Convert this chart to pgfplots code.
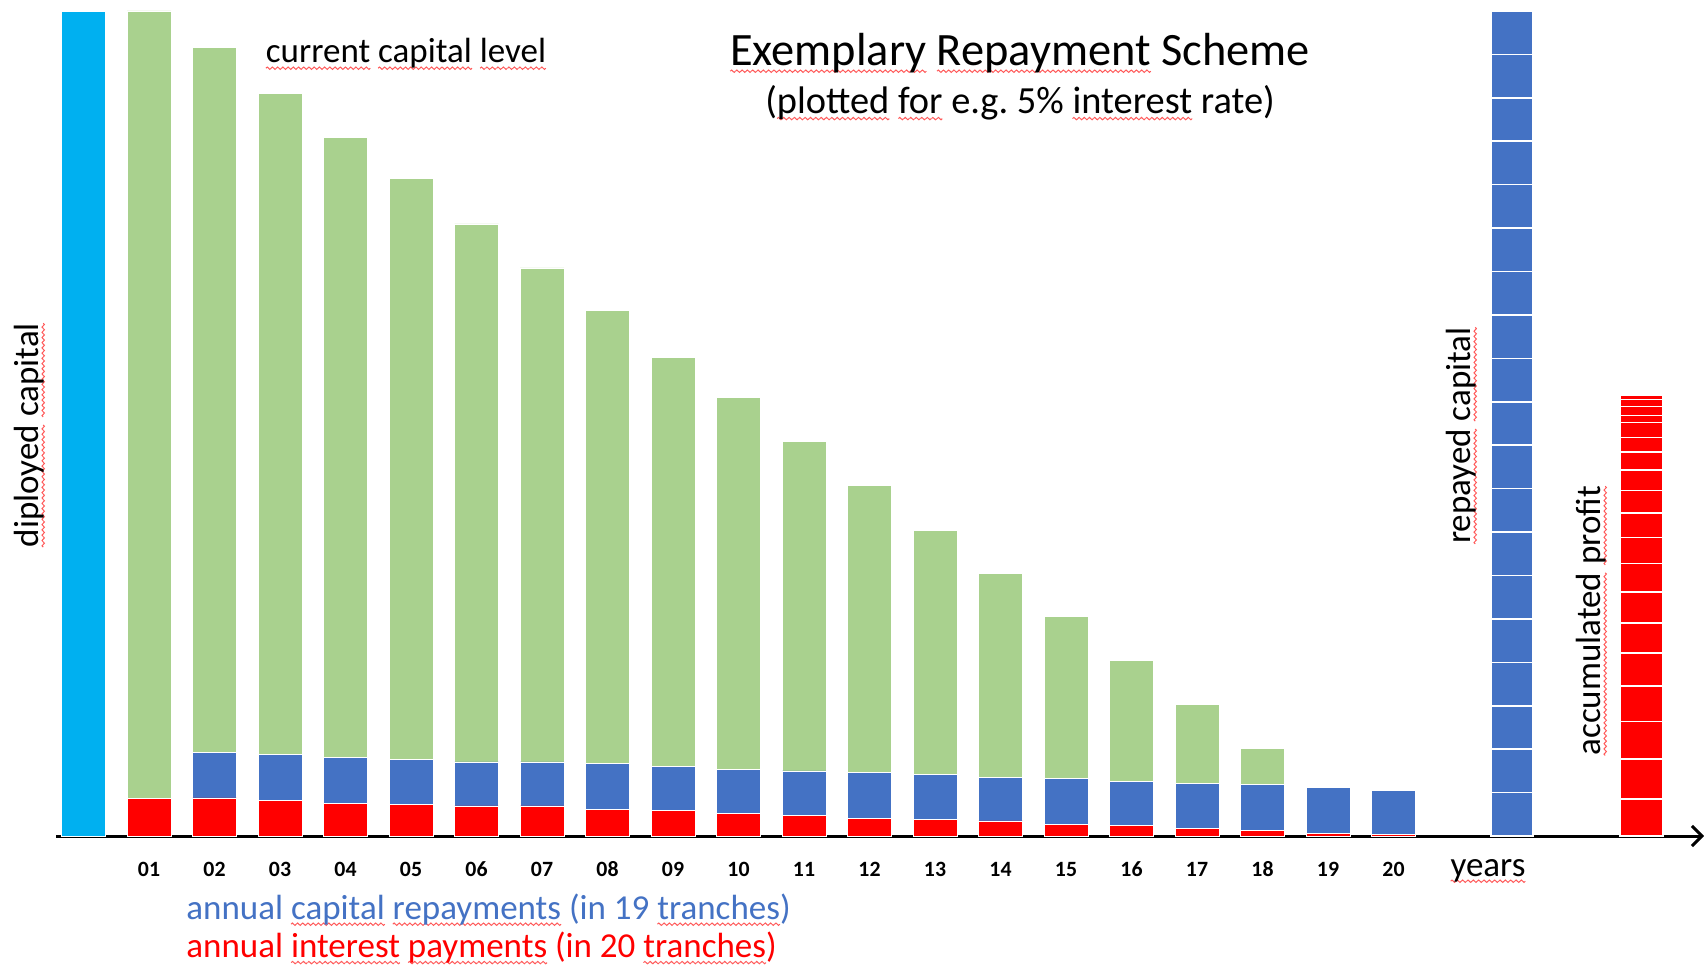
\documentclass[border=0pt]{standalone}
\usepackage{pgfplots}
\pgfplotsset{compat=1.18}
\usepackage{pgfplotstable}
\usepackage{fontspec}
\setmainfont{Carlito}
\usetikzlibrary{arrows.meta}
\definecolor{deploy}{HTML}{00B0F0}
\definecolor{capgreen}{HTML}{A9D18E}
\definecolor{capblue}{HTML}{4472C4}
\definecolor{intred}{HTML}{FF0000}
\definecolor{wavered}{HTML}{FF5A5A}
\newsavebox\wavebox
\newcommand\wv[1]{\setbox0\hbox{#1}\rlap{\lower2.6pt\hbox to \wd0{\xleaders\copy\wavebox\hfill}}\box0\relax}

\pgfplotstableread{
year interest repay remain
1  4.57 0    95.43
2  4.61 5.49 85.45
3  4.36 5.54 80.12
4  4.00 5.54 75.15
5  3.84 5.49 70.39
6  3.64 5.33 65.21
7  3.64 5.33 59.88
8  3.27 5.54 54.85
9  3.07 5.38 49.55
10 2.70 5.38 45.04
11 2.51 5.37 39.98
12 2.15 5.58 34.73
13 2.02 5.49 29.54
14 1.82 5.33 24.63
15 1.45 5.49 19.70
16 1.25 5.33 14.67
17 0.88 5.54 9.54
18 0.69 5.53 4.41
19 0.36 5.49 0
20 0.21 5.28 0
}\yearly

\begin{document}
\sbox\wavebox{\begin{tikzpicture}[baseline=0pt]
\path[use as bounding box] (0,-0.6pt) rectangle (2.6pt,0.6pt);
\draw[wavered, line width=0.5pt] (0,0) sin (0.65pt,0.6pt) cos (1.3pt,0) sin (1.95pt,-0.6pt) cos (2.6pt,0);
\end{tikzpicture}}%
\begin{tikzpicture}
\useasboundingbox (0,0) rectangle (852pt,483pt);
\pgfplotsset{common/.style={
  at={(28pt,65pt)}, anchor=south west,
  scale only axis, width=824pt, height=418pt,
  xmin=-0.42, xmax=24.74, ymin=0, ymax=101.33}}
\begin{axis}[common,
  axis x line=bottom, axis y line=none,
  x axis line style={line width=1.5pt, -{Straight Barb[length=5pt,width=10pt]}},
  ybar stacked, bar width=22pt,
  xtick={1,...,20},
  xticklabels={01,02,03,04,05,06,07,08,09,10,11,12,13,14,15,16,17,18,19,20},
  xtick style={draw=none}, major tick length=0pt,
  xticklabel style={font=\fontsize{10.9}{12}\selectfont\bfseries, anchor=base, yshift=-20pt, inner sep=0pt},
  ytick=\empty,
]
\addplot[fill=intred, draw=white, line width=0.4pt] table[x=year, y=interest] {\yearly};
\addplot[fill=capblue, draw=white, line width=0.4pt] table[x=year, y=repay] {\yearly};
\addplot[fill=capgreen, draw=white, line width=0.4pt] table[x=year, y=remain] {\yearly};
\end{axis}
\begin{axis}[common, hide axis]
\addplot[ybar, bar width=22pt, bar shift=0pt, fill=deploy, draw=white, line width=0.4pt] coordinates {(0,100)};
\addplot[ybar, bar width=21pt, bar shift=0pt, fill=capblue, draw=white, line width=0.8pt] coordinates {
(21.81,100) (21.81,94.74) (21.81,89.47) (21.81,84.21) (21.81,78.95) (21.81,73.68) (21.81,68.42)
(21.81,63.16) (21.81,57.89) (21.81,52.63) (21.81,47.37) (21.81,42.11) (21.81,36.84) (21.81,31.58)
(21.81,26.32) (21.81,21.05) (21.81,15.79) (21.81,10.53) (21.81,5.26)};
\addplot[ybar, bar width=21.5pt, bar shift=0pt, fill=intred, draw=white, line width=0.8pt] coordinates {
(23.79,53.45) (23.79,53.37) (23.79,52.93) (23.79,52.04) (23.79,50.95) (23.79,50.10) (23.79,48.28)
(23.79,46.55) (23.79,44.33) (23.79,41.90) (23.79,39.12) (23.79,36.16) (23.79,33.05) (23.79,29.54)
(23.79,25.85) (23.79,22.15) (23.79,18.18) (23.79,13.90) (23.79,9.30) (23.79,4.52)};
\end{axis}
\tikzset{lbl/.style={font=\fontsize{17.5}{21}\selectfont, inner sep=0pt}}
\node[font=\fontsize{23.2}{28}\selectfont, inner sep=0pt, anchor=base] at (510pt,450pt) {\wv{Exemplary} \wv{Repayment} Scheme};
\node[font=\fontsize{19.2}{23}\selectfont, inner sep=0pt, anchor=base] at (510pt,426.3pt) {(\wv{plotted} \wv{for} e.g.\ 5\% \wv{interest} rate)};
\node[lbl, anchor=base] at (203pt,451.5pt) {\wv{current} \wv{capital} \wv{level}};
\node[lbl, rotate=90, anchor=base] at (19pt,265.4pt) {\wv{diployed} \wv{capital}};
\node[lbl, rotate=90, anchor=base] at (735pt,265.2pt) {\wv{repayed} \wv{capital}};
\node[lbl, rotate=90, anchor=base] at (800pt,172.6pt) {\wv{accumulated} \wv{profit}};
\node[lbl, anchor=base] at (744pt,45pt) {\wv{years}};
\node[lbl, anchor=base west, text=capblue] at (93pt,23.5pt) {annual \wv{capital} \wv{repayments} (in 19 \wv{tranches})};
\node[lbl, anchor=base west, text=intred] at (93pt,4.3pt) {annual \wv{interest} \wv{payments} (in 20 \wv{tranches})};
\end{tikzpicture}
\end{document}
